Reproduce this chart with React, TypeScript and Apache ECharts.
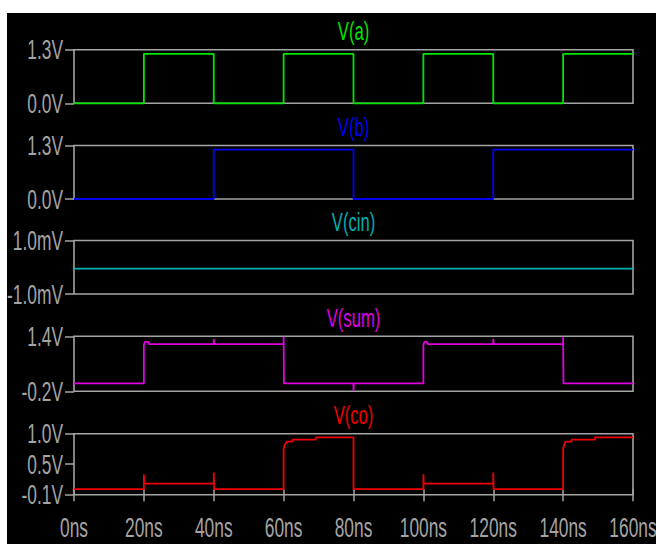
import { useEffect, useRef } from "react";
import * as echarts from "echarts";

// ---- data (time in ns) ----
const timeTicks = [0, 20, 40, 60, 80, 100, 120, 140, 160];
const timeTickLabels = ["0ns", "20ns", "40ns", "60ns", "80ns", "100ns", "120ns", "140ns", "160ns"];

const titles = ["V(a)", "V(b)", "V(cin)", "V(sum)", "V(co)"];

const yMins = [0, 0, -1, -0.2, -0.1];
const yMaxs = [1.3, 1.3, 1, 1.4, 1.0];
const yTickValues = [
  [0, 1.3],
  [0, 1.3],
  [-1, 1],
  [-0.2, 1.4],
  [-0.1, 0.45, 1.0],
];
const yTickLabels = [
  ["0.0V", "1.3V"],
  ["0.0V", "1.3V"],
  ["-1.0mV", "1.0mV"],
  ["-0.2V", "1.4V"],
  ["-0.1V", "0.5V", "1.0V"],
];

const va = [
  [0, 0], [20, 0], [20, 1.2], [40, 1.2], [40, 0], [60, 0], [60, 1.2], [80, 1.2],
  [80, 0], [100, 0], [100, 1.2], [120, 1.2], [120, 0], [140, 0], [140, 1.2], [160, 1.2],
];
const vb = [
  [0, 0], [40, 0], [40, 1.2], [80, 1.2], [80, 0], [120, 0], [120, 1.2], [160, 1.2],
];
const vcin = [
  [0, -0.05], [160, -0.05],
];
const vsum = [
  [0, 0.03], [20, 0.03], [20, 1.15], [20.3, 1.24], [21.3, 1.24], [21.4, 1.17],
  [40, 1.17], [40, 1.32], [40.1, 1.17], [60, 1.17], [60, 1.39], [60.1, 0.03],
  [80, 0.03], [80, -0.19], [80.1, 0.03], [100, 0.03], [100, 1.15], [100.3, 1.24],
  [101.1, 1.24], [101.2, 1.17], [120, 1.17], [120, 1.32], [120.1, 1.17],
  [140, 1.17], [140, 1.39], [140.1, 0.03], [160, 0.03],
];
const vco = [
  [0, 0], [20, 0], [20, 0.27], [20.1, 0.1], [40, 0.1], [40, 0.3], [40.1, 0],
  [60, 0], [60, 0.72], [60.3, 0.8], [60.9, 0.856], [62.5, 0.856], [62.5, 0.892],
  [69.2, 0.892], [69.2, 0.935], [80, 0.935], [80, 0], [100, 0], [100, 0.27],
  [100.1, 0.1], [120, 0.1], [120, 0.3], [120.1, 0], [140, 0], [140, 0.72],
  [140.3, 0.8], [140.7, 0.856], [142.4, 0.856], [142.4, 0.892], [149.1, 0.892],
  [149.1, 0.935], [160, 0.935],
];
const seriesData = [va, vb, vcin, vsum, vco];
const colors = ["#00e600", "#0000f0", "#00b0b0", "#e000e0", "#f00000"];

// ---- layout ----
const W = 649;
const H = 531;
const gridLeft = 67;
const gridRight = 23;
const gridTops = [36.7, 132.5, 227.5, 323.3, 420.7];
const gridHeights = [53.6, 53.5, 53.5, 55, 61];
const grey = "#a4a4a4";
const font = "'Liberation Sans', Arial, sans-serif";

export default function App() {
  const ref = useRef<HTMLDivElement>(null);

  useEffect(() => {
    if (!ref.current) return;
    const chart = echarts.init(ref.current, null, { renderer: "svg" });
    const n = titles.length;
    const grids = [];
    const xAxes = [];
    const yAxes = [];
    const series = [];
    for (let i = 0; i < n; i++) {
      grids.push({
        left: gridLeft,
        right: gridRight,
        top: gridTops[i],
        height: gridHeights[i],
        show: true,
        borderColor: grey,
        borderWidth: 1.6,
        backgroundColor: "transparent",
        containLabel: false,
      });
      const last = i === n - 1;
      xAxes.push({
        type: "value",
        gridIndex: i,
        min: 0,
        max: 160,
        interval: 20,
        axisLine: { show: false },
        axisTick: {
          show: last,
          length: 12,
          inside: false,
          lineStyle: { color: grey, width: 1.5 },
        },
        axisLabel: { show: false },
        splitLine: { show: false },
      });
      yAxes.push({
        type: "value",
        gridIndex: i,
        min: yMins[i],
        max: yMaxs[i],
        axisLine: { show: false },
        axisTick: {
          show: true,
          length: 9,
          inside: false,
          customValues: yTickValues[i],
          lineStyle: { color: grey, width: 1.5 },
        },
        axisLabel: { show: false, customValues: yTickValues[i] },
        splitLine: { show: false },
      });
      series.push({
        type: "line",
        xAxisIndex: i,
        yAxisIndex: i,
        data: seriesData[i],
        showSymbol: false,
        symbol: "none",
        clip: false,
        z: 5,
        lineStyle: { color: colors[i], width: 1.8 },
      });
    }
    chart.setOption({
      animation: false,
      backgroundColor: "#000000",
      grid: grids,
      xAxis: xAxes,
      yAxis: yAxes,
      series,
    });

    const graphics: any[] = [];
    const labelX = 56;
    for (let i = 0; i < n; i++) {
      yTickValues[i].forEach((v, k) => {
        const py = chart.convertToPixel({ yAxisIndex: i } as any, v) as number;
        graphics.push({
          type: "text",
          x: labelX,
          y: py,
          scaleX: 0.62,
          silent: true,
          style: {
            text: yTickLabels[i][k],
            fill: grey,
            font: `28px ${font}`,
            align: "right",
            verticalAlign: "middle",
          },
        });
      });
      const cx = gridLeft + (W - gridLeft - gridRight) / 2;
      graphics.push({
        type: "text",
        x: cx,
        y: gridTops[i] - 18.5,
        scaleX: 0.64,
        silent: true,
        style: {
          text: titles[i],
          fill: colors[i],
          font: `26px ${font}`,
          align: "center",
          verticalAlign: "middle",
        },
      });
    }
    timeTicks.forEach((t, k) => {
      const px = chart.convertToPixel({ xAxisIndex: n - 1 } as any, t) as number;
      graphics.push({
        type: "text",
        x: px,
        y: 514,
        scaleX: 0.62,
        silent: true,
        style: {
          text: timeTickLabels[k],
          fill: grey,
          font: `28px ${font}`,
          align: "center",
          verticalAlign: "middle",
        },
      });
    });
    chart.setOption({ graphic: graphics });

    return () => chart.dispose();
  }, []);

  return (
    <div
      ref={ref}
      style={{ position: "fixed", left: 7, top: 13, width: W, height: H }}
    />
  );
}
